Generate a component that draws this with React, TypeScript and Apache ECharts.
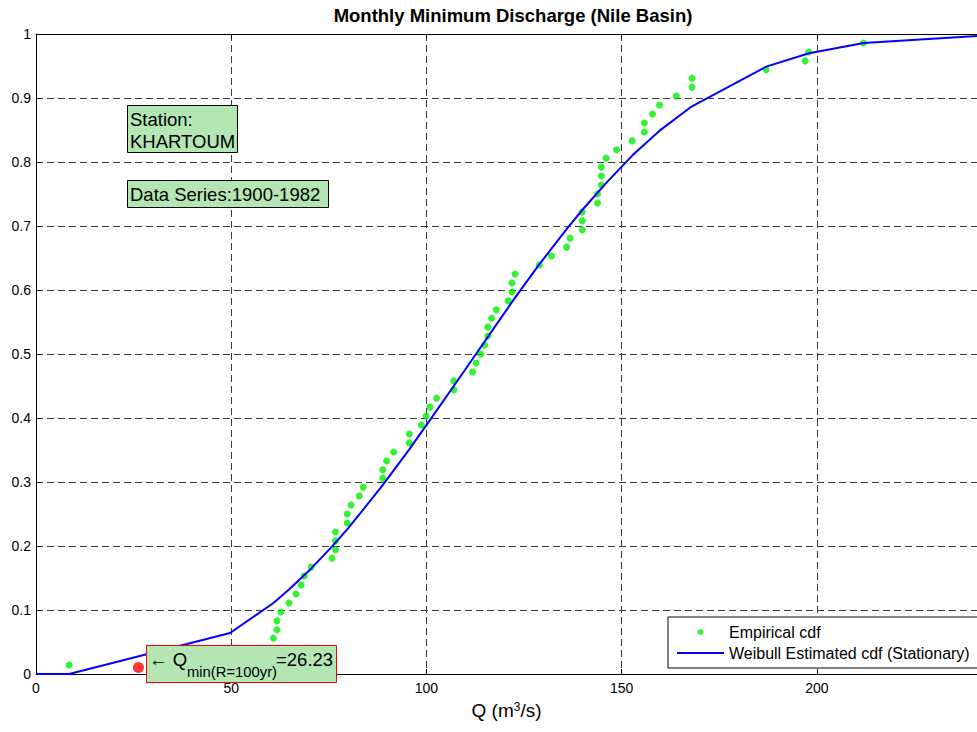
import React, { useEffect, useRef } from "react";
import * as echarts from "echarts";

const FONT = "'Liberation Sans', Arial, Helvetica, sans-serif";

// Empirical cdf points (Q in m3/s, cumulative probability)
const empQ = [8.5, 60.8, 61.7, 61.7, 62.7, 64.8, 66.6, 67.9, 68.7, 70.5, 75.8, 76.7, 76.7, 76.7, 79.7, 79.7, 80.7, 82.8, 83.8, 88.8, 88.8, 89.8, 91.6, 95.6, 95.6, 98.7, 99.9, 100.9, 102.6, 107.0, 107.0, 111.8, 112.7, 113.9, 114.9, 115.7, 115.7, 116.7, 117.9, 120.9, 121.9, 121.9, 122.7, 128.9, 132.0, 135.9, 136.8, 139.9, 139.9, 139.9, 143.8, 143.8, 144.8, 144.8, 144.8, 146.0, 148.7, 152.7, 155.8, 155.8, 157.9, 159.7, 164.0, 168.0, 168.0, 187.0, 197.0, 197.9, 211.9];
const empF = [0.014, 0.056, 0.069, 0.083, 0.097, 0.111, 0.125, 0.139, 0.153, 0.167, 0.181, 0.194, 0.208, 0.222, 0.236, 0.250, 0.264, 0.278, 0.292, 0.306, 0.319, 0.333, 0.347, 0.361, 0.375, 0.389, 0.403, 0.417, 0.431, 0.444, 0.458, 0.472, 0.486, 0.500, 0.514, 0.528, 0.542, 0.556, 0.569, 0.583, 0.597, 0.611, 0.625, 0.639, 0.653, 0.667, 0.681, 0.694, 0.708, 0.722, 0.736, 0.750, 0.764, 0.778, 0.792, 0.806, 0.819, 0.833, 0.847, 0.861, 0.875, 0.889, 0.903, 0.917, 0.931, 0.944, 0.958, 0.972, 0.986];

// Weibull estimated cdf (stationary)
const weibullQ = [0, 8.5, 49.7, 60.8, 64.8, 70.5, 75.8, 79.7, 83.8, 88.8, 95.6, 99.9, 107.0, 112.7, 117.9, 122.7, 128.9, 136.0, 139.9, 146.0, 152.7, 159.7, 168.0, 187.0, 198.0, 212.0, 241.0];
const weibullF = [0, 0.0, 0.064, 0.111, 0.132, 0.165, 0.199, 0.226, 0.257, 0.295, 0.351, 0.388, 0.450, 0.500, 0.546, 0.588, 0.640, 0.696, 0.725, 0.767, 0.810, 0.849, 0.887, 0.949, 0.970, 0.986, 0.997];

// 100-year minimum discharge
const qMinQ = [26.23];
const qMinF = [0.01];

const xTicks = { min: 0, max: 241, interval: 50 };
const yTicks = { min: 0, max: 1, interval: 0.1 };

const seriesNames = ["Empirical cdf", "Weibull Estimated cdf (Stationary)"];

const BOX_GREEN = "#b3e6b3";

export default function App() {
  const ref = useRef<HTMLDivElement>(null);

  useEffect(() => {
    if (!ref.current) return;
    const chart = echarts.init(ref.current, null, { renderer: "svg" });

    const gridLine = { show: true, lineStyle: { color: "#3a3a3a", width: 1, type: [7, 4] as any } };

    chart.setOption({
      animation: false,
      backgroundColor: "#ffffff",
      title: {
        text: "Monthly Minimum Discharge (Nile Basin)",
        left: 508,
        top: 1,
        textAlign: "center",
        textStyle: { fontFamily: FONT, fontSize: 18.5, fontWeight: "bold", color: "#000" },
      },
      grid: { left: 36, top: 34, right: 0, bottom: 58, containLabel: false },
      legend: {
        orient: "vertical",
        left: 668,
        top: 617,
        backgroundColor: "#ffffff",
        borderColor: "#000",
        borderWidth: 1,
        borderRadius: 0,
        padding: [7, 10, 7, 9],
        itemWidth: 47,
        itemHeight: 6,
        itemGap: 5,
        textStyle: { fontFamily: FONT, fontSize: 16, color: "#000" },
        data: [
          { name: seriesNames[0], icon: "circle" },
          { name: seriesNames[1], icon: "path://M0,0 L47,0 L47,2 L0,2 Z" },
        ],
      },
      xAxis: [
        {
          type: "value",
          position: "bottom",
          min: xTicks.min,
          max: xTicks.max,
          interval: xTicks.interval,
          axisLine: { show: true, lineStyle: { color: "#000", width: 1 } },
          axisTick: { show: true, inside: true, length: 5, lineStyle: { color: "#000" } },
          axisLabel: { show: true, showMaxLabel: false, margin: 7, fontFamily: FONT, fontSize: 14, color: "#000" },
          splitLine: gridLine,
          name: "Q (m{sup|3}/s)",
          nameLocation: "middle",
          nameGap: 27,
          nameTextStyle: {
            fontFamily: FONT,
            fontSize: 19,
            color: "#000",
            rich: {
              sup: { fontFamily: FONT, fontSize: 12, color: "#000", verticalAlign: "top" },
            },
          },
        },
        {
          type: "value",
          position: "top",
          min: xTicks.min,
          max: xTicks.max,
          interval: xTicks.interval,
          axisLine: { show: true, lineStyle: { color: "#000", width: 1 } },
          axisTick: { show: true, inside: true, length: 5, lineStyle: { color: "#000" } },
          axisLabel: { show: false },
          splitLine: { show: false },
        },
      ],
      yAxis: {
        type: "value",
        min: yTicks.min,
        max: yTicks.max,
        interval: yTicks.interval,
        axisLine: { show: true, lineStyle: { color: "#000", width: 1 } },
        axisTick: { show: true, inside: true, length: 5, lineStyle: { color: "#000" } },
        axisLabel: {
          margin: 5,
          fontFamily: FONT,
          fontSize: 14,
          color: "#000",
          formatter: (v: number) => String(Math.round(v * 10) / 10),
        },
        splitLine: gridLine,
      },
      series: [
        {
          name: seriesNames[0],
          type: "scatter",
          symbol: "circle",
          symbolSize: 7,
          itemStyle: { color: "#00ee00" },
          data: empQ.map((q, i) => [q, empF[i]]),
          z: 2,
        },
        {
          name: seriesNames[1],
          type: "line",
          showSymbol: false,
          symbol: "none",
          lineStyle: { color: "#0000ff", width: 2 },
          itemStyle: { color: "#0000ff" },
          data: weibullQ.map((q, i) => [q, weibullF[i]]),
          z: 3,
        },
        {
          name: "Qmin",
          type: "scatter",
          symbol: "circle",
          symbolSize: 11,
          itemStyle: { color: "#ff0000" },
          data: qMinQ.map((q, i) => [q, qMinF[i]]),
          z: 4,
        },
      ],
      graphic: [
        {
          type: "rect",
          z: 100,
          shape: { x: 127.5, y: 105.5, width: 110, height: 47 },
          style: { fill: BOX_GREEN, stroke: "#000", lineWidth: 1 },
        },
        {
          type: "text",
          z: 101,
          x: 130,
          y: 108,
          style: {
            text: "Station:\nKHARTOUM",
            fontFamily: FONT,
            fontSize: 18.5,
            lineHeight: 22,
            fill: "#000",
            verticalAlign: "top",
          },
        },
        {
          type: "rect",
          z: 100,
          shape: { x: 127.5, y: 180.5, width: 201, height: 27 },
          style: { fill: BOX_GREEN, stroke: "#000", lineWidth: 1 },
        },
        {
          type: "text",
          z: 101,
          x: 130,
          y: 194.5,
          style: {
            text: "Data Series:1900-1982",
            fontFamily: FONT,
            fontSize: 18.5,
            fill: "#000",
            verticalAlign: "middle",
          },
        },
        {
          type: "rect",
          z: 100,
          shape: { x: 146.5, y: 645.5, width: 190, height: 37 },
          style: { fill: BOX_GREEN, stroke: "#ff0000", lineWidth: 1 },
        },
        {
          type: "text",
          z: 101,
          x: 149,
          y: 659,
          style: {
            text: "\u2190 Q",
            fontFamily: FONT,
            fontSize: 18.5,
            fill: "#000",
            verticalAlign: "middle",
          },
        },
        {
          type: "text",
          z: 101,
          x: 187,
          y: 672,
          style: {
            text: "min(R=100yr)",
            fontFamily: FONT,
            fontSize: 14.8,
            fill: "#000",
            verticalAlign: "middle",
          },
        },
        {
          type: "text",
          z: 101,
          x: 276,
          y: 659,
          style: {
            text: "=26.23",
            fontFamily: FONT,
            fontSize: 18.5,
            fill: "#000",
            verticalAlign: "middle",
          },
        },
      ],
    });

    return () => chart.dispose();
  }, []);

  return (
    <div
      ref={ref}
      style={{ position: "fixed", left: 0, top: 0, width: 977, height: 732, background: "#fff" }}
    />
  );
}
